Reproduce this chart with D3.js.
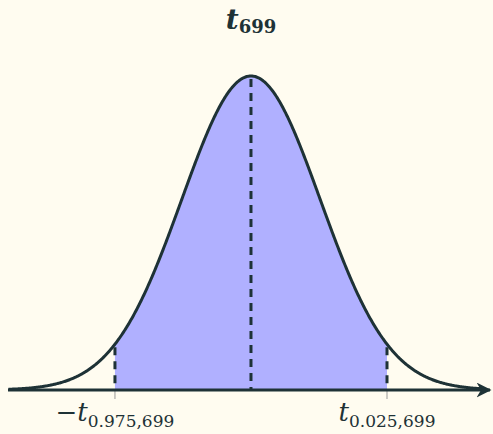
<!DOCTYPE html>
<html><head><meta charset="utf-8">
<script src="https://cdn.jsdelivr.net/npm/d3@7"></script>
<style>html,body{margin:0;padding:0;background:#fffcf0;}svg{display:block;}</style>
</head><body>
<script>
const degreesOfFreedom = [699];
const criticalValues = [-1.9634, 0, 1.9634];
const xDomain = [-3.5, 3.45];
const titleParts = ["t", "699"];
const tickLabels = [
  {pre: "\u2212t", sub: "0.975,699", at: -1.9634},
  {pre: "t", sub: "0.025,699", at: 1.9634}
];

const W = 493, H = 434;
const bg = "#fffcf0", ink = "#1e3236", fill = "#b0b0ff";

function lgamma(z){
  const g = 7, c = [0.99999999999980993,676.5203681218851,-1259.1392167224028,771.32342877765313,-176.61502916214059,12.507343278686905,-0.13857109526572012,9.9843695780195716e-6,1.5056327351493116e-7];
  z -= 1; let x = c[0];
  for (let i = 1; i < g + 2; i++) x += c[i] / (z + i);
  const t = z + g + 0.5;
  return 0.5*Math.log(2*Math.PI) + (z+0.5)*Math.log(t) - t + Math.log(x);
}
const v = degreesOfFreedom[0];
const coef = Math.exp(lgamma((v+1)/2) - lgamma(v/2)) / Math.sqrt(v*Math.PI);
const pdf = t => coef * Math.pow(1 + t*t/v, -(v+1)/2);

const x = d3.scaleLinear().domain(xDomain).range([8.5, 490]);
const y = d3.scaleLinear().domain([0, pdf(0)]).range([390, 76]);

const svg = d3.select("body").append("svg").attr("width", W).attr("height", H);
svg.append("rect").attr("width", W).attr("height", H).attr("fill", bg);

const xs = d3.range(xDomain[0], xDomain[1] + 1e-9, 0.01);
const pts = xs.map(t => [t, pdf(t)]);
const area = d3.area().x(d => x(d[0])).y0(y(0)).y1(d => y(d[1]));
const shade = d3.range(criticalValues[0], criticalValues[2] + 1e-9, (criticalValues[2]-criticalValues[0])/400).map(t => [t, pdf(t)]);
svg.append("path").datum(shade).attr("d", area).attr("fill", fill);

// dashed lines
svg.selectAll("line.crit").data(criticalValues).enter().append("line")
  .attr("x1", d => x(d)).attr("x2", d => x(d))
  .attr("y1", d => y(pdf(d)) + 3).attr("y2", y(0))
  .attr("stroke", ink).attr("stroke-width", 3).attr("stroke-dasharray", "8,6");

// small ticks below axis
svg.selectAll("line.tk").data([criticalValues[0], criticalValues[2]]).enter().append("line")
  .attr("x1", d => x(d)).attr("x2", d => x(d)).attr("y1", y(0)).attr("y2", y(0) + 9)
  .attr("stroke", "#999").attr("stroke-width", 1);

// axis with arrow
svg.append("defs").append("marker").attr("id", "arr").attr("viewBox", "0 0 10 10")
  .attr("refX", 9).attr("refY", 5).attr("markerWidth", 5).attr("markerHeight", 5)
  .attr("markerUnits", "strokeWidth").attr("orient", "auto")
  .append("path").attr("d", "M0,0 L10,5 L0,10 L3,5 Z").attr("fill", ink);
svg.append("line").attr("x1", 8).attr("x2", 490).attr("y1", y(0)).attr("y2", y(0))
  .attr("stroke", ink).attr("stroke-width", 3).attr("marker-end", "url(#arr)");

// curve
const line = d3.line().x(d => x(d[0])).y(d => y(d[1]));
svg.append("path").datum(pts.filter(d => x(d[0]) <= 482)).attr("d", line).attr("fill", "none")
  .attr("stroke", ink).attr("stroke-width", 3);

// title
const title = svg.append("text").attr("x", 251).attr("y", 29).attr("text-anchor", "middle")
  .attr("font-family", "'DejaVu Serif', serif").attr("font-weight", "bold").attr("fill", ink);
title.append("tspan").attr("font-style", "italic").attr("font-size", 28).text(titleParts[0]);
title.append("tspan").attr("font-size", 18).attr("dy", 4).text(titleParts[1]);

// tick labels
tickLabels.forEach(tl => {
  const t = svg.append("text").attr("x", x(tl.at)).attr("y", 421).attr("text-anchor", "middle")
    .attr("font-family", "'DejaVu Serif', serif").attr("fill", ink);
  t.append("tspan").attr("font-style", "italic").attr("font-size", 26).text(tl.pre);
  t.append("tspan").attr("font-size", 17).attr("dy", 6).text(tl.sub);
});
</script>
</body></html>
